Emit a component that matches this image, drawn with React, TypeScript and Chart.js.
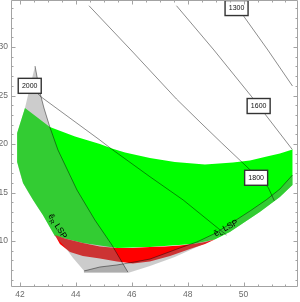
import React, { useEffect, useRef } from "react";
import { Chart, registerables } from "chart.js";

Chart.register(...registerables);

// axes
const xTicks = [42, 44, 46, 48, 50];
const yTicks = [10, 15, 20, 25, 30];
const xMin = 41.68;
const xMax = 51.93;
const yMin = 5.29;
const yMax = 34.85;

// allowed (green) region
const greenX = [41.9, 42.18, 43.07, 43.97, 44.86, 45.29, 45.76, 46.65, 47.54, 48.62, 49.62, 50.23, 50.83, 51.3, 51.75, 51.75, 51.3, 50.58, 49.51, 48.97, 48.19, 46.65, 45.47, 44.25, 43.25, 42.82, 42.47, 42.11, 41.9];
const greenY = [21.13, 23.71, 21.75, 20.77, 20.0, 19.54, 19.12, 18.56, 18.14, 17.89, 18.09, 18.3, 18.71, 19.02, 19.43, 15.77, 14.54, 12.99, 10.93, 10.16, 9.69, 9.38, 9.28, 9.79, 10.52, 12.68, 14.23, 15.98, 18.14];

// red region
const redX = [43.25, 43.61, 44.25, 44.86, 45.47, 46.04, 46.65, 47.19, 47.72, 48.19, 48.62, 48.97, 48.62, 48.08, 47.37, 46.65, 46.04, 45.47, 44.86, 44.25, 43.79, 43.43];
const redY = [10.62, 10.26, 9.79, 9.43, 9.28, 9.28, 9.38, 9.43, 9.54, 9.69, 9.9, 10.16, 9.69, 9.18, 8.45, 7.89, 7.68, 7.89, 8.19, 8.45, 8.86, 9.69];

// selectron-R LSP region (grey overlay)
const eRX = [42.54, 42.72, 42.86, 43.07, 43.36, 44.04, 44.68, 45.29, 45.86, 44.33, 43.9, 43.61, 43.25, 43.04, 42.82, 42.65, 42.47, 42.29, 42.11, 42.0, 41.9, 41.9, 42.18, 42.29];
const eRY = [28.04, 25.26, 23.71, 21.75, 19.38, 15.26, 12.17, 9.59, 6.8, 6.8, 8.25, 9.38, 10.52, 11.55, 12.68, 13.4, 14.23, 15.05, 15.98, 17.01, 18.14, 21.13, 23.71, 25.05];
const eREdgeCount = 9;

// selectron-L LSP region (grey overlay)
const eLX = [44.29, 44.86, 45.47, 46.11, 46.65, 47.19, 47.72, 48.33, 48.97, 49.51, 50.23, 50.83, 51.3, 51.75, 51.75, 51.3, 50.58, 49.51, 48.33, 47.54, 46.65, 45.86, 44.29];
const eLY = [6.91, 7.32, 7.53, 7.84, 8.14, 8.71, 9.28, 9.9, 10.77, 11.75, 13.09, 14.28, 15.36, 16.8, 15.77, 14.54, 12.99, 10.93, 9.38, 8.35, 7.42, 6.7, 6.7];
const eLEdgeCount = 14;

// mass contours
const c1300X = [49.75, 50.02, 50.87, 51.75];
const c1300Y = [34.26, 33.12, 29.69, 25.98];
const c1600X = [47.6, 48.94, 50.29, 50.82, 51.74];
const c1600Y = [34.26, 29.69, 24.88, 22.89, 19.45];
const c1800X = [44.47, 46.04, 47.6, 48.44, 49.22, 50.05, 50.88, 51.1];
const c1800Y = [34.26, 29.48, 24.64, 22.27, 20.1, 17.84, 15.54, 14.15];
const c2000X = [42.35, 42.78, 44.86, 45.28, 46.65, 47.84, 49.09, 49.39];
const c2000Y = [26.0, 24.81, 20.41, 19.48, 16.63, 14.23, 11.31, 10.62];

// contour labels
const labelText = ["2000", "1300", "1600", "1800"];
const labelX = [42.35, 49.75, 50.54, 50.45];
const labelY = [26.0, 34.02, 23.92, 16.52];

// region labels
const regionSub = ["R", "L"];
const regionX = [43.36, 49.36];
const regionY = [11.55, 11.39];
const regionAngle = [57.7, -28];

const FONT = "'Liberation Sans', Arial, sans-serif";

const pts = (xs: number[], ys: number[], n?: number) =>
  xs.slice(0, n ?? xs.length).map((x, i) => ({ x, y: ys[i] }));

const polygon = (xs: number[], ys: number[], color: string, order: number) => ({
  data: pts(xs, ys),
  fill: "shape",
  backgroundColor: color,
  borderColor: "rgba(0,0,0,0)",
  borderWidth: 0,
  pointRadius: 0,
  order,
});

const curve = (xs: number[], ys: number[], color: string, width: number, order: number, n?: number) => ({
  data: pts(xs, ys, n),
  fill: false,
  borderColor: color,
  backgroundColor: color,
  borderWidth: width,
  pointRadius: 0,
  order,
});

const decorPlugin = {
  id: "decor",
  afterDatasetsDraw(chart: any) {
    const { ctx, scales } = chart;
    const sx = scales.x;
    const sy = scales.y;
    ctx.save();
    labelText.forEach((t, i) => {
      const px = sx.getPixelForValue(labelX[i]);
      const py = sy.getPixelForValue(labelY[i]);
      const w = 23;
      const h = 15;
      ctx.fillStyle = "#ffffff";
      ctx.fillRect(px - w / 2, py - h / 2, w, h);
      ctx.strokeStyle = "#333333";
      ctx.lineWidth = 1.4;
      ctx.strokeRect(px - w / 2, py - h / 2, w, h);
      ctx.fillStyle = "#111111";
      ctx.font = `7px ${FONT}`;
      ctx.textAlign = "center";
      ctx.textBaseline = "middle";
      ctx.fillText(t, px, py + 0.5);
    });
    regionSub.forEach((s, i) => {
      const px = sx.getPixelForValue(regionX[i]);
      const py = sy.getPixelForValue(regionY[i]);
      ctx.save();
      ctx.translate(px, py);
      ctx.rotate((regionAngle[i] * Math.PI) / 180);
      ctx.fillStyle = "#000000";
      ctx.textBaseline = "alphabetic";
      ctx.textAlign = "left";
      const a = "ẽ";
      const b = " LSP";
      ctx.font = `6px ${FONT}`;
      const ws = ctx.measureText(s).width;
      ctx.font = `8.5px ${FONT}`;
      const wa = ctx.measureText(a).width;
      const wb = ctx.measureText(b).width;
      let x0 = -(wa + ws + wb) / 2;
      const base = 3;
      ctx.fillText(a, x0, base);
      x0 += wa;
      ctx.font = `6px ${FONT}`;
      ctx.fillText(s, x0, base + 1.8);
      x0 += ws;
      ctx.font = `8.5px ${FONT}`;
      ctx.fillText(b, x0, base);
      ctx.restore();
    });
    ctx.restore();
  },
  afterDraw(chart: any) {
    const { ctx, chartArea: a, scales } = chart;
    const sx = scales.x;
    const sy = scales.y;
    const L = Math.floor(a.left) + 0.5;
    const R = Math.floor(a.right) + 0.5;
    const T = Math.floor(a.top) + 0.5;
    const B = Math.floor(a.bottom) + 0.5;
    ctx.save();
    ctx.strokeStyle = "#a3a3a3";
    ctx.lineWidth = 1;
    ctx.beginPath();
    ctx.rect(L, T, R - L, B - T);
    ctx.stroke();
    ctx.beginPath();
    for (let v = 42; v <= xMax; v += 0.5) {
      const px = Math.round(sx.getPixelForValue(v)) + 0.5;
      const len = Math.abs(v % 2) < 1e-6 ? 4 : 2;
      ctx.moveTo(px, B);
      ctx.lineTo(px, B - len);
      ctx.moveTo(px, T);
      ctx.lineTo(px, T + len);
    }
    for (let v = 6; v <= yMax; v += 1) {
      const py = Math.round(sy.getPixelForValue(v)) + 0.5;
      const len = v % 5 === 0 ? 4 : 2;
      ctx.moveTo(L, py);
      ctx.lineTo(L + len, py);
      ctx.moveTo(R, py);
      ctx.lineTo(R - len, py);
    }
    ctx.stroke();
    ctx.restore();
  },
};

export default function App() {
  const ref = useRef<HTMLCanvasElement | null>(null);
  useEffect(() => {
    if (!ref.current) return;
    const contourColor = "rgba(0,0,0,0.45)";
    const edgeColor = "rgba(0,0,0,0.55)";
    const chart = new Chart(ref.current, {
      type: "line",
      data: {
        datasets: [
          polygon(greenX, greenY, "#00ff00", 20),
          polygon(redX, redY, "#ff0000", 19),
          polygon(eRX, eRY, "rgba(128,128,128,0.4)", 18),
          polygon(eLX, eLY, "rgba(128,128,128,0.4)", 17),
          curve(eRX, eRY, edgeColor, 0.8, 10, eREdgeCount),
          curve(eLX, eLY, edgeColor, 0.8, 9, eLEdgeCount),
          curve(c1300X, c1300Y, contourColor, 1, 5),
          curve(c1600X, c1600Y, contourColor, 1, 4),
          curve(c1800X, c1800Y, contourColor, 1, 3),
          curve(c2000X, c2000Y, contourColor, 1, 2),
        ] as any,
      },
      options: {
        animation: false,
        responsive: false,
        maintainAspectRatio: false,
        events: [],
        layout: { padding: { left: 0, right: 2.5, top: 0, bottom: 0 } },
        elements: { point: { radius: 0 }, line: { tension: 0 } },
        plugins: {
          legend: { display: false },
          tooltip: { enabled: false },
          title: { display: false },
        },
        scales: {
          x: {
            type: "linear",
            min: xMin,
            max: xMax,
            grid: { display: false, drawTicks: false },
            border: { display: false },
            ticks: { font: { family: FONT, size: 8.5 }, color: "#6b6b6b", padding: 3 },
            afterBuildTicks: (s: any) => {
              s.ticks = xTicks.map((v) => ({ value: v }));
            },
            afterFit: (s: any) => {
              s.height = 15.3;
              s.paddingLeft = 0;
              s.paddingRight = 0;
            },
          },
          y: {
            type: "linear",
            min: yMin,
            max: yMax,
            grid: { display: false, drawTicks: false },
            border: { display: false },
            ticks: { font: { family: FONT, size: 8.5 }, color: "#6b6b6b", padding: 3 },
            afterBuildTicks: (s: any) => {
              s.ticks = yTicks.map((v) => ({ value: v }));
            },
            afterFit: (s: any) => {
              s.width = 11;
              s.paddingTop = 0;
              s.paddingBottom = 0;
            },
          },
        },
      } as any,
      plugins: [decorPlugin],
    });
    return () => chart.destroy();
  }, []);
  return (
    <div style={{ position: "absolute", left: 0, top: 0, width: 300, height: 302, background: "#fff" }}>
      <canvas ref={ref} width={300} height={302} style={{ display: "block" }} />
    </div>
  );
}
